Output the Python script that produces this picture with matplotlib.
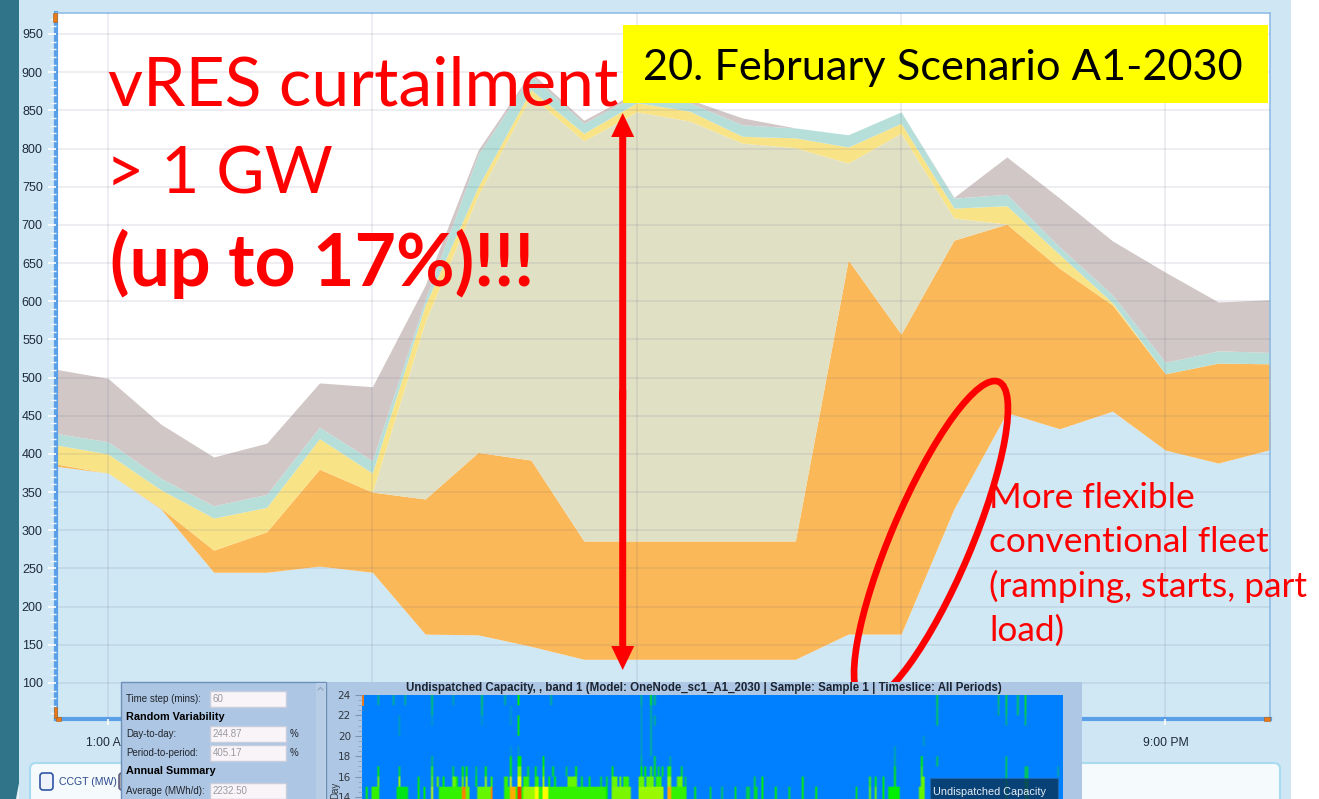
import numpy as np
import matplotlib
matplotlib.use("Agg")
import matplotlib.pyplot as plt
from matplotlib.patches import Rectangle, Ellipse, FancyArrow, FancyBboxPatch, Polygon
from matplotlib.colors import LinearSegmentedColormap

# ---------- main chart data (cumulative tops, MW) ----------
hours = list(range(24))
base_top = [384,375,328,245,245,253,245,164,163,148,131,131,131,131,131,164,164,328,454,433,456,405,388,406]
orange_top = [387,375,329,274,298,380,350,341,402,392,286,286,286,286,286,654,557,680,701,643,595,505,519,518]
olive_top = [387,375,329,274,298,380,350,573,739,869,810,848,836,807,801,781,820,709,701,643,595,505,519,518]
yellow_top = [412,400,353,316,330,420,375,595,750,877,820,860,849,816,814,802,833,722,725,661,598,505,519,518]
teal_top = [427,416,368,332,347,435,391,602,792,896,833,870,860,831,827,818,848,735,740,671,608,520,535,533]
gray_top = [511,499,439,396,414,493,488,621,798,900,837,874,864,840,827,818,848,736,789,735,679,638,599,602]
x_ticks = [1, 6, 11, 16, 21]
x_labels = ["1:00 AM", "6:00 AM", "11:00 AM", "4:00 PM", "9:00 PM"]

# ---------- heat map data: (first day, last day, level) per hour row ----------
row14 = [(2,3,.5),(5,9,.55),(18,24,.45),(29,30,.5),(32,33,.5),(36,37,.7),(40,52,.55),(52,54,.9),(54,56,.6),
         (60,67,.6),(67,68,.9),(74,77,.55),(77,80,.85),(80,81,.55),(81,83,1.0),(83,84,.55),(84,90,.65),(90,92,.75),
         (92,94,.55),(94,97,.75),(97,127,.55),(124,125,.55),(127,128,.5),(130,140,.62),(144,157,.65),(159,161,.85),
         (161,169,.55),(173,174,.45),(181,182,.35),(187,188,.3),(194,195,.4),(200,202,.35),(204,206,.4),(208,209,.5),
         (215,216,.5),(222,223,.4),(229,230,.5),(236,237,.5),(257,258,.4),(264,265,.6),(267,268,.6),(271,272,.5),
         (274,280,.5),(290,293,.6),(345,347,.3),(335,336,.3)]
row15 = [(8,9,.6),(19,20,.65),(29,30,.45),(36,37,.6),(39,40,.6),(42,43,.5),(47,49,.6),(49,50,.45),(52,53,.6),(54,55,.65),
         (59,60,.45),(64,65,.65),(67,68,.55),(74,76,.55),(77,78,.7),(81,83,.75),(84,87,.55),(90,92,.55),(94,95,.65),
         (97,98,.5),(100,101,.5),(107,112,.6),(114,115,.45),(118,119,.45),(124,125,.4),(127,128,.4),(130,133,.6),
         (134,135,.6),(136,139,.55),(144,147,.6),(148,152,.6),(153,156,.55),(159,161,.65),(164,167,.6),(168,169,.3),
         (204,205,.35),(208,209,.5),(229,230,.5),(264,265,.55),(267,268,.45),(271,272,.45),(277,278,.5),(291,293,.6),
         (345,347,.35),(335,336,.3)]
row16 = [(8,9,.45),(19,20,.35),(36,37,.55),(47,48,.35),(52,53,.5),(54,55,.5),(59,60,.3),(64,65,.5),(77,78,.5),(81,83,.62),
         (86,87,.4),(90,91,.45),(94,95,.55),(99,100,.45),(106,107,.3),(111,112,.5),(130,131,.45),(145,146,.5),(147,148,.5),
         (150,151,.55),(152,153,.5),(154,155,.4),(156,157,.4),(159,161,.55),(166,167,.4),(277,278,.45),(291,292,.55),
         (345,347,.3),(335,336,.3),(362,363,.15)]
row17 = [(36,37,.25),(77,78,.5),(81,83,.5),(94,95,.45),(145,146,.2),(152,153,.4),(160,161,.2),(277,278,.2),(291,292,.5),
         (299,300,.3),(335,336,.3)]
row18 = [(77,78,.1),(81,82,.12),(150,151,.2),(145,146,.12),(277,278,.15)]
row19 = [(150,151,.2),(145,146,.12),(292,293,.12)]
row20 = [(81,82,.45),(19,20,.12),(150,151,.2),(145,146,.12)]
row21 = [(81,82,.45),(36,37,.1),(62,63,.1),(19,20,.12),(77,78,.12),(150,151,.2),(152,153,.2),(145,146,.12),(299,300,.3),
         (335,336,.2),(345,346,.25)]
row22 = [(36,37,.25),(62,63,.25),(77,78,.1),(150,151,.2),(145,146,.12),(299,300,.3),(331,332,.2),(335,336,.3),(341,342,.3),(345,346,.35)]
row23 = [(81,82,.5),(36,37,.3),(62,63,.3),(8,9,.2),(16,17,.2),(22,23,.2),(47,48,.15),(74,75,.2),(98,99,.2),(150,151,.45),
         (145,146,.2),(152,153,.25),(299,300,.35),(331,332,.25),(335,336,.35),(341,342,.3),(345,346,.4)]
heat_rows = [row14, row14, row15, row16, row17, row18, row19, row20, row21, row22, row23]  # hours 13 .. 23
heat_title = "Undispatched Capacity, , band 1 (Model: OneNode_sc1_A1_2030 | Sample: Sample 1 | Timeslice: All Periods)"

W, H = 1319, 799
SANS = "Liberation Sans"
PANEL = "#CFE7F5"
fig = plt.figure(figsize=(W / 100, H / 100), dpi=100, facecolor="white")

def rect_axes(l, t, r, b, z):
    return fig.add_axes([l / W, 1 - b / H, (r - l) / W, (b - t) / H], zorder=z)

# ---------- background ----------
bg = rect_axes(0, 0, W, H, 0)
bg.set_xlim(0, W); bg.set_ylim(H, 0); bg.axis("off")
bg.add_patch(Rectangle((19, 0), 1272, H, fc=PANEL, ec="none"))
bg.add_patch(Rectangle((0, 0), 19, H, fc="#2F7488", ec="none"))
bg.add_patch(Polygon([(19, 783), (16, 799), (19, 799)], fc="#E8F4FA", ec="none"))
bg.add_patch(FancyBboxPatch((30, 763), 1250, 60, boxstyle="round,pad=0,rounding_size=6", fc="#F5FAFD", ec="#A8DAF0", lw=1.5))
bg.add_patch(FancyBboxPatch((40, 773), 13, 17, boxstyle="round,pad=0,rounding_size=3", fc="#EEF3FB", ec="#2F55A5", lw=1.2))
bg.add_patch(FancyBboxPatch((119, 773), 10, 17, boxstyle="round,pad=0,rounding_size=3", fc="#B9A9A9", ec="#5F5F7F", lw=1.2))
bg.text(59, 782, "CCGT (MW)", fontsize=7.6, family=SANS, color="#2B4B8C", va="center")

# ---------- main chart ----------
ax = rect_axes(56, 13, 1270, 719, 1)
ax.set_facecolor("white")
layers = [
    (np.zeros(24), base_top, "#D0E7F4"),
    (base_top, orange_top, "#FBB858"),
    (orange_top, olive_top, "#E0E0C5"),
    (olive_top, yellow_top, "#F9E387"),
    (yellow_top, teal_top, "#B6DFDA"),
    (teal_top, gray_top, "#D1C7C7"),
]
for low, high, col in layers:
    ax.fill_between(hours, low, high, color=col, lw=0, zorder=1)
ax.set_xlim(1 + (56 - 108) / 52.87, 1 + (1270 - 108) / 52.87)
ax.set_ylim(950 - (719 - 34) * 1.3098, 950 + 21 * 1.3098)
ax.set_yticks(range(100, 951, 50))
ax.set_yticks(range(60, 971, 10), minor=True)
ax.set_xticks(x_ticks)
ax.set_xticklabels(x_labels)
ax.grid(True, which="major", color="#5A5A80", alpha=0.10, lw=1.4, zorder=2)
ax.set_axisbelow(False)
ax.tick_params(axis="y", which="major", length=6, width=1.2, color="white", labelsize=9, pad=3.5, labelcolor="#1F2A3A")
ax.tick_params(axis="y", which="minor", length=4, width=1.0, color="#F0F7FC")
ax.tick_params(axis="x", which="major", length=4, width=1.2, color="white", labelsize=8.8, pad=9, labelcolor="#1F2A3A")
for lab in ax.get_xticklabels() + ax.get_yticklabels():
    lab.set_family(SANS)
for s in ("left", "bottom"):
    ax.spines[s].set_color("#5AA0E8"); ax.spines[s].set_linewidth(3.0)
for s in ("top", "right"):
    ax.spines[s].set_color("#8FBCE6"); ax.spines[s].set_linewidth(1.2)

# ---------- annotations ----------
ov = rect_axes(0, 0, W, H, 2)
ov.set_xlim(0, W); ov.set_ylim(H, 0); ov.axis("off"); ov.patch.set_alpha(0)
for xy, w, h in [((53, 13), 3.5, 9), ((54, 707), 2.5, 11), ((56, 717), 5, 3.5), ((1264, 717), 6, 3.5)]:
    ov.add_patch(Rectangle(xy, w, h, fc="#E8791C", ec="#B0600F", lw=0.4))
ov.add_patch(Rectangle((623, 25), 645, 78, fc="#FFFF00", ec="none"))
ov.text(643, 80, "20. February Scenario A1-2030", family="Lato", fontsize=31.2, color="black", va="baseline")
ov.text(108, 105, "vRES curtailment", family="Lato", fontsize=48.9, color="#FF0000", va="baseline")
ov.text(106, 194, "> 1 GW", family="Lato", fontsize=47.5, color="#FF0000", va="baseline")
ov.text(110, 286, "(up to 17%)!!!", family="Lato", fontsize=51.5, weight="bold", color="#FF0000", va="baseline")
for i, line in enumerate(["More flexible", "conventional fleet", "(ramping, starts, part", "load)"]):
    ov.text(989, 508 + i * 44.4, line, family="Lato", fontsize=25.4, color="#FF0000", va="baseline")
ov.add_patch(FancyArrow(622.7, 400, 0, -287, width=7, head_width=23, head_length=24, length_includes_head=True, fc="#FF0000", ec="none"))
ov.add_patch(FancyArrow(622.7, 390, 0, 280, width=7, head_width=23, head_length=24, length_includes_head=True, fc="#FF0000", ec="none"))
ov.add_patch(Ellipse((931, 541), 346, 80, angle=-67, fc="none", ec="#FF0000", lw=4.8))

# ---------- inset window ----------
win = rect_axes(0, 0, W, H, 3)
win.set_xlim(0, W); win.set_ylim(H, 0); win.axis("off"); win.patch.set_alpha(0)
win.add_patch(Rectangle((121, 682), 961, 120, fc="#AEC7E4", ec="none"))
win.add_patch(Rectangle((121, 682), 205, 120, fc="#ADC6E3", ec="#6E90B8", lw=1))
win.add_patch(Rectangle((316, 683), 10, 120, fc="#B8CEE6", ec="none"))
win.plot([318, 320.5, 323], [690, 687.5, 690], color="#8CA4C0", lw=0.8)

def field(y, label, value, pct=False):
    win.text(126, y, label, family=SANS, fontsize=7.0, color="#20242C", va="center")
    win.add_patch(Rectangle((209.5, y - 8), 76, 16, fc="#F8F4F8", ec="#C9CEDC", lw=1))
    win.text(212.5, y, value, family=SANS, fontsize=7.0, color="#9A9AA0", va="center")
    if pct:
        win.text(290, y, "%", family=SANS, fontsize=7.0, color="#20242C", va="center")

field(699, "Time step (mins):", "60")
win.text(126, 717.5, "Random Variability", family=SANS, weight="bold", fontsize=7.8, color="black", va="center")
field(734, "Day-to-day:", "244.87", True)
field(753, "Period-to-period:", "405.17", True)
win.text(126, 771.5, "Annual Summary", family=SANS, weight="bold", fontsize=7.8, color="black", va="center")
field(790.5, "Average (MWh/d):", "2232.50")
win.text(704, 688, heat_title, family=SANS, weight="bold", fontsize=8.3, color="#1B2430", ha="center", va="center")
win.text(335, 790, "Day", family=SANS, fontsize=7, rotation=90, color="#303840", ha="center", va="center")

# ---------- heat map ----------
hm = rect_axes(362, 695, 1063, 799, 4)
grid = np.zeros((len(heat_rows), 365))
for r, stripes in enumerate(heat_rows):
    for d0, d1, level in stripes:
        grid[r, d0:d1] = level
cmap = LinearSegmentedColormap.from_list("heat", [(0, "#0080FF"), (0.5, "#00F000"), (0.75, "#FFFF00"), (1, "#FF3000")])
# rows are repeated so the smoothing softens the stripes sideways and keeps the hour steps sharp
hm.imshow(np.repeat(grid, 8, axis=0), origin="lower", extent=[0, 365, 13, 24], aspect="auto", cmap=cmap,
          vmin=0, vmax=1, interpolation="bilinear")
hm.set_xlim(0, 365)
hm.set_ylim(13.8, 24)
hm.set_xticks([])
hm.set_yticks(range(14, 25, 2))
hm.set_yticks(np.arange(14, 24, 0.5), minor=True)
hm.tick_params(axis="y", which="major", length=5, width=0.8, color="#7C94B4", labelsize=7.5, pad=3, labelcolor="#303840")
hm.tick_params(axis="y", which="minor", length=3, width=0.6, color="#8CA4C0")
for s in hm.spines.values():
    s.set_visible(False)
hm.add_patch(Rectangle((0, 22.9), 1.2, 1.1, fc="#E8791C", ec="none"))
hm.add_patch(Rectangle((296, 13), 66.5, 2.86, fc="#0A3458", alpha=0.82, ec="#1E6CB0", lw=0.8))
hm.text(297.5, 14.5, "Undispatched Capacity", family=SANS, fontsize=7.8, color="#E8EEF5", va="center")

fig.savefig("out.png", dpi=100, facecolor="white")
